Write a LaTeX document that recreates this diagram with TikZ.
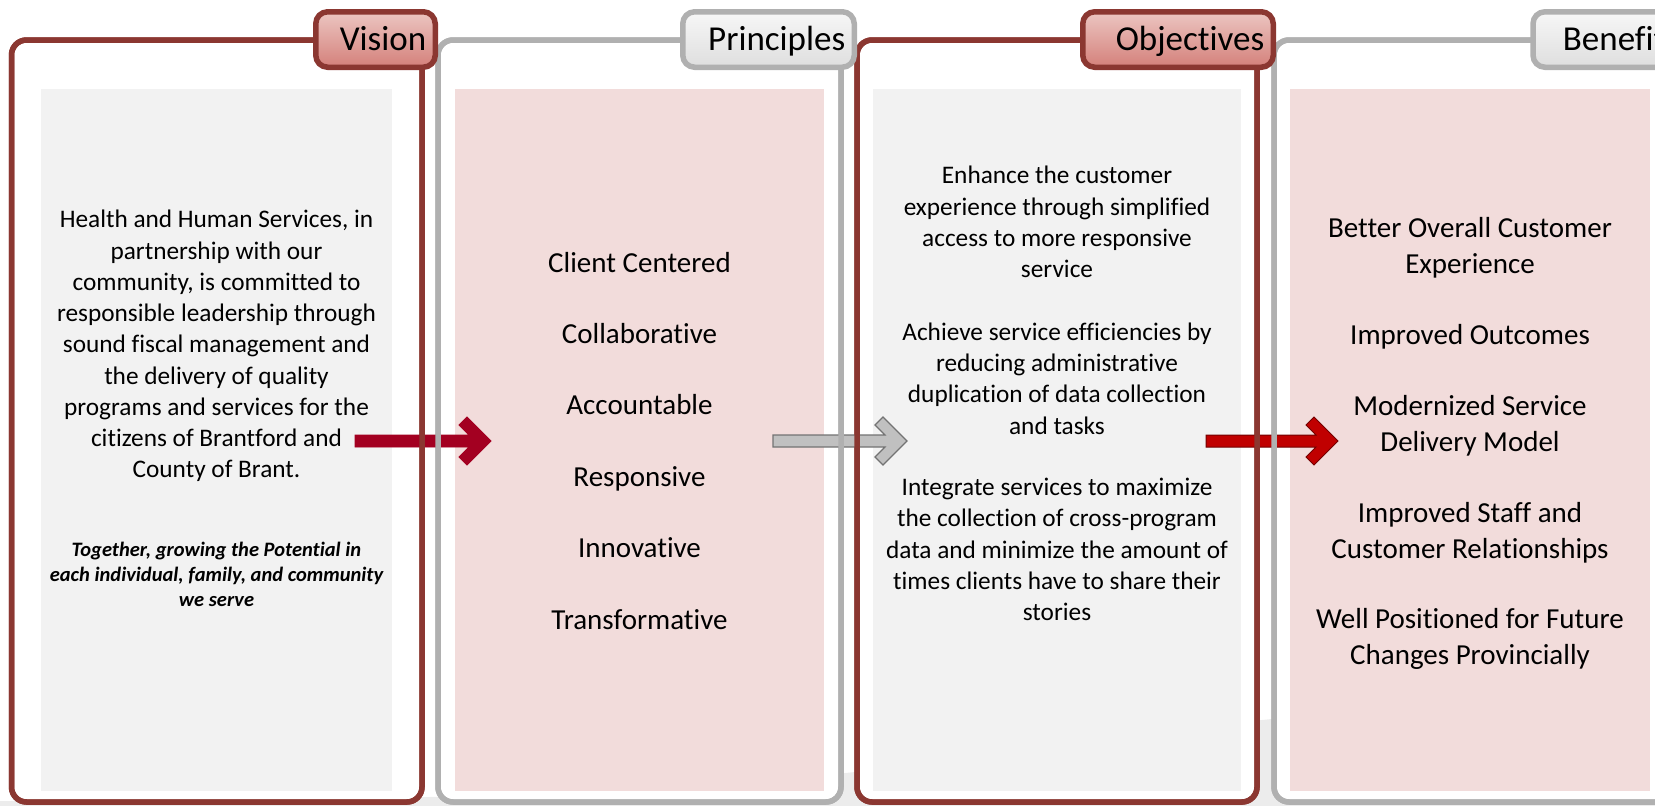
\documentclass[tikz,border=0pt]{standalone}
\usepackage{fontspec}
\setmainfont{Carlito}[Ligatures={NoCommon}]
\usepackage{tikz}
\usetikzlibrary{calc}

\definecolor{framered}{RGB}{139,55,49}
\definecolor{framegray}{RGB}{176,176,176}
\definecolor{tabredtop}{RGB}{236,198,194}
\definecolor{tabredbot}{RGB}{212,128,122}
\definecolor{tabgraytop}{RGB}{247,247,247}
\definecolor{tabgraybot}{RGB}{222,222,222}
\definecolor{boxgray}{RGB}{242,242,242}
\definecolor{boxpink}{RGB}{242,220,219}
\definecolor{arrowdark}{RGB}{163,0,33}
\definecolor{arrowred}{RGB}{192,0,0}
\definecolor{arrowgray}{RGB}{192,192,192}
\definecolor{bgshade}{RGB}{236,236,236}

\newcommand{\fatarrow}[3]{%
	\draw [#3] ($(#1)+(0,-6)$) -- ($(#2)+(-22,-6)$) -- ($(#2)+(-32,-16)$) -- ($(#2)+(-24,-24)$) -- (#2) -- ($(#2)+(-24,24)$) -- ($(#2)+(-32,16)$) -- ($(#2)+(-22,6)$) -- ($(#1)+(0,6)$) -- cycle;}

\begin{document}
\begin{tikzpicture}[x=1pt,y=-1pt]
	\tikzstyle{redframe} = [draw=framered, line width=5.5, rounded corners=15, fill=white, inner sep=0, outer sep=0, minimum height=762]
	\tikzstyle{grayframe} = [redframe, draw=framegray]
	\tikzstyle{graybox} = [fill=boxgray, inner sep=0, outer sep=0, minimum height=702]
	\tikzstyle{pinkbox} = [graybox, fill=boxpink]
	\tikzstyle{redtab} = [draw=framered, line width=5.5, rounded corners=12, top color=tabredtop, bottom color=tabredbot, minimum height=55.5, inner xsep=9, inner ysep=0, outer sep=0, text height=21, text depth=0, align=right, anchor=east, font=\fontsize{35}{40}\selectfont]
	\tikzstyle{graytab} = [redtab, draw=framegray, top color=tabgraytop, bottom color=tabgraybot]
	\tikzstyle{bodytext} = [align=center, inner sep=0, font=\fontsize{25.3}{31.25}\selectfont]
	\tikzstyle{mottotext} = [align=center, inner sep=0, font=\fontsize{20.5}{25}\selectfont\bfseries\itshape]
	\tikzstyle{bigtext} = [align=center, inner sep=0, font=\fontsize{29}{35.7}\selectfont]

	\useasboundingbox (0,0) rectangle (1655,806);
	\clip (0,0) rectangle (1655,806);
	\fill [bgshade] (0,806) -- plot [smooth] coordinates {(0,801) (430,797) (845,773) (1262,720) (1655,690)} -- (1655,806) -- cycle;

	\node [redframe, minimum width=410.5] (visionframe) at (216.75,421) {};
	\node [grayframe, minimum width=403] (principlesframe) at (639.5,421) {};
	\node [redframe, minimum width=400] (objectivesframe) at (1057,421) {};
	\node [grayframe, minimum width=400] (benefitsframe) at (1474,421) {};

	\node [graybox, minimum width=351] (visionbox) at (216.5,440) {};
	\node [pinkbox, minimum width=369] (principlesbox) at (639.5,440) {};
	\node [graybox, minimum width=368] (objectivesbox) at (1057,440) {};
	\node [pinkbox, minimum width=360] (benefitsbox) at (1470,440) {};

	\node [bodytext] (vision) at (216.5,346) {Health and Human Services, in\\partnership with our\\community, is committed to\\responsible leadership through\\sound fiscal management and\\the delivery of quality\\programs and services for the\\citizens of Brantford and\\County of Brant.};
	\node [mottotext] (motto) at (216.5,574) {Together, growing the Potential in\\each individual, family, and community\\we serve};

	\foreach \t [count=\i from 0] in {Client Centered, Collaborative, Accountable, Responsive, Innovative, Transformative}
		\node [bigtext, text height=20, text depth=6] (principle\i) at (639.5, 265+71.4*\i) {\t};

	\node [bodytext] (objective1) at (1057,222) {Enhance the customer\\experience through simplified\\access to more responsive\\service};
	\node [bodytext] (objective2) at (1057,378.5) {Achieve service efficiencies by\\reducing administrative\\duplication of data collection\\and tasks};
	\node [bodytext] (objective3) at (1057,549.5) {Integrate services to maximize\\the collection of cross-program\\data and minimize the amount of\\times clients have to share their\\stories};

	\foreach \y/\t [count=\i] in {247.5/{Better Overall Customer\\Experience}, 336.5/{Improved Outcomes}, 425.5/{Modernized Service\\Delivery Model}, 533/{Improved Staff and\\Customer Relationships}, 639/{Well Positioned for Future\\Changes Provincially}}
		\node [bigtext] (benefit\i) at (1470,\y) {\t};

	\coordinate (a1) at (355,441);
	\coordinate (a1tip) at (491,441);
	\coordinate (a2) at (773,441);
	\coordinate (a2tip) at (907,441);
	\coordinate (a3) at (1206,441);
	\coordinate (a3tip) at (1338,441);
	\fatarrow{a1}{a1tip}{fill=arrowdark, draw=arrowdark, line width=0.8}
	\fatarrow{a2}{a2tip}{fill=arrowgray, draw=black!55, line width=1.2}
	\fatarrow{a3}{a3tip}{fill=arrowred, draw=arrowred!60!black, line width=1}

	\foreach \f/\c in {visionframe/framered, principlesframe/framegray, objectivesframe/framered, benefitsframe/framegray}
		\draw [\c, line width=5.5, rounded corners=15] (\f.north west) rectangle (\f.south east);

	\node [redtab, text width=101.5] (visiontab) at (435.25,39.5) {Vision};
	\node [graytab, text width=153.5] (principlestab) at (854.25,39.5) {Principles};
	\node [redtab, text width=172.5] (objectivestab) at (1273.25,39.5) {Objectives};
	\node [graytab, text width=137] (benefitstab) at (1688,39.5) {Benefits};
\end{tikzpicture}
\end{document}
